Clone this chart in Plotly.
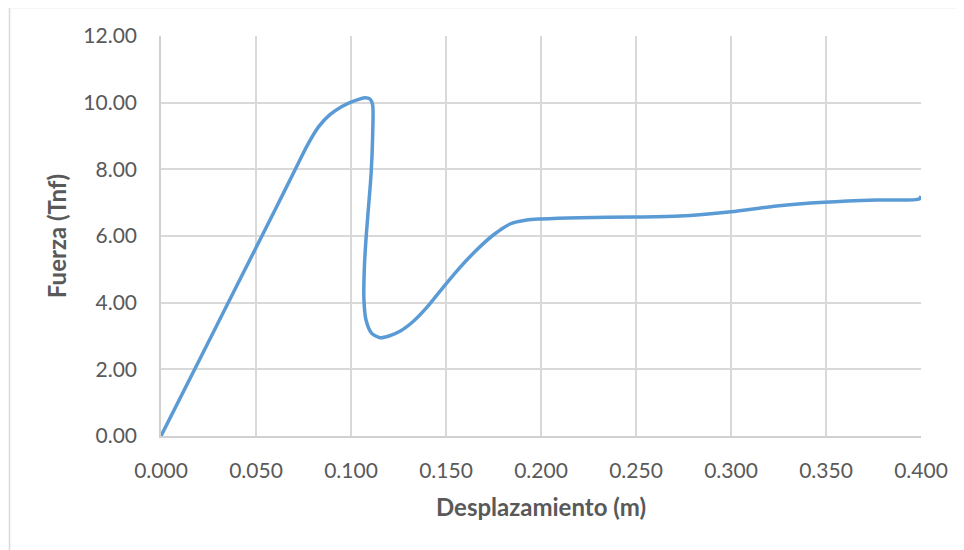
import plotly.graph_objects as go

# Data
desplazamiento = [0.0, 0.020, 0.040, 0.060, 0.0705, 0.0770, 0.0830, 0.0889, 0.0950, 0.1010,
                  0.1074, 0.1100, 0.1114, 0.1114, 0.1105, 0.1094, 0.1080, 0.1070, 0.1068, 0.1079,
                  0.1109, 0.1153, 0.1200, 0.1260, 0.1330, 0.1398, 0.1498, 0.1574, 0.1661, 0.1749,
                  0.1837, 0.1925, 0.200, 0.2205, 0.2495, 0.273, 0.300, 0.324, 0.349, 0.3767,
                  0.399, 0.400]
fuerza = [0.0, 2.26, 4.52, 6.78, 7.98, 8.72, 9.28, 9.64, 9.88, 10.04,
          10.15, 10.11, 9.93, 9.03, 7.80, 7.00, 6.00, 5.00, 4.10, 3.48,
          3.08, 2.95, 3.00, 3.15, 3.45, 3.85, 4.55, 5.06, 5.58, 6.03,
          6.36, 6.48, 6.51, 6.55, 6.57, 6.60, 6.73, 6.90, 7.01, 7.08,
          7.11, 7.20]

x_ticks = [0.0, 0.05, 0.10, 0.15, 0.20, 0.25, 0.30, 0.35, 0.40]
y_ticks = [0, 2, 4, 6, 8, 10, 12]

FONT = "Lato"
TXT = "#595959"
GRID = "#d9d9d9"

fig = go.Figure()
fig.add_trace(go.Scatter(
    x=desplazamiento, y=fuerza, mode="lines",
    line=dict(color="#5b9bd5", width=3.5, shape="spline", smoothing=0.7),
    showlegend=False, hoverinfo="x+y",
))

fig.update_layout(
    width=964, height=550,
    margin=dict(l=153, r=51, t=28, b=122),
    paper_bgcolor="white", plot_bgcolor="white",
    font=dict(family=FONT, color=TXT),
    xaxis=dict(
        range=[0, 0.4], tickvals=x_ticks, tickformat=".3f",
        showgrid=True, gridcolor=GRID, gridwidth=1.5,
        showline=True, linecolor="#d0d0d0", linewidth=1.5,
        zeroline=False, ticks="", ticklabelstandoff=15,
        tickfont=dict(family=FONT, size=21, color=TXT),
        title=dict(text="<b>Desplazamiento (m)</b>", standoff=18,
                   font=dict(family=FONT, size=24, color=TXT)),
    ),
    yaxis=dict(
        range=[0, 12], tickvals=y_ticks, tickformat=".2f",
        showgrid=True, gridcolor=GRID, gridwidth=1.5,
        showline=True, linecolor="#d0d0d0", linewidth=1.5,
        zeroline=False, ticks="", ticklabelstandoff=18,
        tickfont=dict(family=FONT, size=21, color=TXT),
        title=dict(text="<b>Fuerza (Tnf)</b>", standoff=10,
                   font=dict(family=FONT, size=24, color=TXT)),
    ),
    shapes=[dict(type="rect", xref="paper", yref="paper",
                 x0=(9.5 - 161) / 760, x1=(975 - 161) / 760,
                 y0=(436 - 560) / 400, y1=(436 - 7.5) / 400,
                 line=dict(color=GRID, width=1.5), fillcolor="rgba(0,0,0,0)",
                 layer="below")],
)

fig.write_html("out.html")
